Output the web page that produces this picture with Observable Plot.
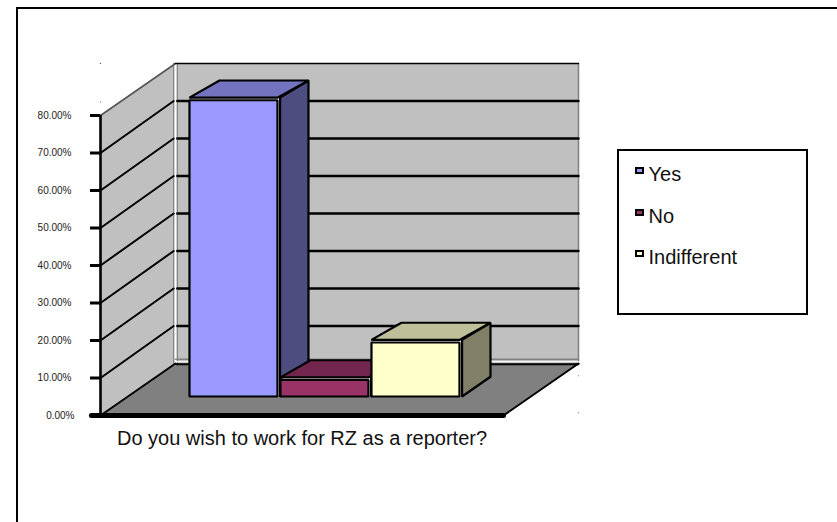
<!DOCTYPE html>
<html><head><meta charset="utf-8">
<script src="https://cdn.jsdelivr.net/npm/d3@7"></script>
<script src="https://cdn.jsdelivr.net/npm/@observablehq/plot@0.6"></script>
<style>
html,body{margin:0;padding:0;background:#fff;width:837px;height:522px;overflow:hidden;font-family:"Liberation Sans",Arial,sans-serif}
#wrap{position:relative;width:837px;height:522px}
#wrap svg{position:absolute;left:0;top:0}
#border{position:absolute;left:15.5px;top:7px;width:830px;height:530px;border:2px solid #000;box-sizing:border-box}
#legend{position:absolute;left:617px;top:149px;width:191px;height:165.5px;border:2.5px solid #000;box-sizing:border-box;background:#fff}
.item{position:absolute;font-size:20px;line-height:24px;color:#111;white-space:nowrap;left:29.5px}
.sw{position:absolute;left:15.5px;width:9px;height:7px;border:2px solid #000;box-sizing:border-box}
</style></head><body>
<div id="wrap"><div id="border"></div></div>
<script>
const categories = ["Yes", "No", "Indifferent"];
const values = [79, 4.4, 14.4];
const faceColors = ["#9999ff", "#993366", "#ffffcc"];
const topColors = ["#7373bf", "#73264d", "#bfbf99"];
const sideColors = ["#4d4d80", "#732649", "#808066"];
const yTicks = [10, 20, 30, 40, 50, 60, 70, 80];
const axisTitle = "Do you wish to work for RZ as a reporter?";
const strayLeft = [83.6, 93.9];
const strayRight = [10.6, 0.8];

const fmt = d => d.toFixed(2) + "%";
const W = 403 / 91;        // floor width, in category steps
const DX = 75 / 91, DY = 13.87; // projection of the full depth onto x / y
const GAP = 0.677, FW = 0.967, BW = 0.978;
const Z0 = 0.365, Z1x = 0.765, Z1y = 0.745;
const PX = W / 403, PY = 80 / 300; // one pixel, in scale units
const P = (x, y, z) => [x + z * DX, y + z * DY];

const poly = (pts, o) => Plot.line(pts, {x: d => d[0], y: d => d[1], curve: "linear-closed", strokeLinejoin: "miter", ...o});
const path = (pts, o) => Plot.line(pts, {x: d => d[0], y: d => d[1], strokeLinejoin: "miter", ...o});

const marks = [];
// walls
marks.push(poly([P(0,0,0), P(0,80,0), P(0,80,1), P(0,0,1)], {fill: "#c0c0c0"}));
marks.push(poly([P(0,0,1), P(0,80,1), P(W,80,1), P(W,0,1)], {fill: "#c0c0c0"}));
// floor
marks.push(poly([P(0,0,0), P(0,0,1), P(W,0,1), P(W,0,0)], {fill: "#808080"}));
// wall edges
const e = 1.8 * PX;
marks.push(path([P(0,0,1), P(0,80,1)], {stroke: "#fff", strokeWidth: 4}));
marks.push(path([P(-e,0,1), P(-e,80,1)], {stroke: "#808080", strokeWidth: 1.3}));
marks.push(path([P(e,0,1), P(e,80,1)], {stroke: "#808080", strokeWidth: 1.3}));
marks.push(path([P(0,1.1,1), P(W,1.1,1)], {stroke: "#808080", strokeWidth: 1.5}));
marks.push(path([P(W,0.6,1), P(W,80,1)], {stroke: "#808080", strokeWidth: 1.5}));
marks.push(path([P(0,0.5,1), P(W,0.5,1)], {stroke: "#fff", strokeWidth: 1}));
marks.push(path([P(0,80,0), P(0,80,1)], {stroke: "#555", strokeWidth: 1.6}));
marks.push(path([P(0,80,1), P(W,80,1)], {stroke: "#000", strokeWidth: 1.5}));
marks.push(path([P(0,-0.2,1), P(W,-0.2,1)], {stroke: "#000", strokeWidth: 1.8}));
// gridlines
for (const v of yTicks.slice(0, -1)) {
  marks.push(path([P(0,v,0), P(-e,v,1)], {stroke: "#000", strokeWidth: 2}));
  marks.push(path([P(e,v,1), P(W,v,1)], {stroke: "#000", strokeWidth: 2.4}));
}
// floor edges
marks.push(path([P(0,0,0), P(0,0,1)], {stroke: "#000", strokeWidth: 2}));
marks.push(path([P(W,0,0), P(W,0,1)], {stroke: "#000", strokeWidth: 2}));
marks.push(path([P(-0.1,0,0), P(W,0,0)], {stroke: "#000", strokeWidth: 5}));
marks.push(Plot.ruleX([0], {y1: 0, y2: 80, stroke: "#000", strokeWidth: 2.6}));
// stray tick remnants
marks.push(Plot.dot(strayLeft, {x: () => 0, y: d => d, r: 0.6, fill: "#555", stroke: "none"}));
marks.push(Plot.dot(strayRight, {x: () => W + DX, y: d => d, r: 0.7, fill: "#999", stroke: "none"}));
// bars
values.forEach((v, i) => {
  const x0 = GAP + i, xf = x0 + FW, xb = x0 + BW;
  const fb = (x, y) => [x + Z0 * DX, y + Z0 * DY];
  const bk = (x, y) => [x + Z1x * DX, y + Z1y * DY];
  const shift = 2.6;
  marks.push(poly([fb(x0,0), fb(x0,v), bk(x0,v), bk(xb,v), bk(xb,0), fb(xf,0)], {fill: "#fff"}));
  // side
  const sf0 = [fb(xf,0)[0] + shift*PX, fb(xf,0)[1]];
  const sft = [fb(xf,v)[0] + shift*PX, fb(xf,v)[1] + shift*PY];
  marks.push(poly([sf0, sft, bk(xb,v), bk(xb,0)], {fill: sideColors[i], stroke: "#000", strokeWidth: 2.2}));
  // top
  const tfl = [fb(x0,v)[0], fb(x0,v)[1] + shift*PY];
  const tfr = [fb(xf,v)[0], fb(xf,v)[1] + shift*PY];
  marks.push(poly([tfl, bk(x0,v), bk(xb,v), tfr], {fill: topColors[i], stroke: "#000", strokeWidth: 2.2}));
  // front
  marks.push(poly([fb(x0,0), fb(x0,v), fb(xf,v), fb(xf,0)], {fill: faceColors[i], stroke: "#000", strokeWidth: 2.2}));
});

marks.push(Plot.axisY(yTicks, {anchor: "left", tickSize: 10, tickPadding: 19, tickFormat: fmt, strokeWidth: 3, label: null, fontSize: 10, fill: "#222"}));
marks.push(Plot.axisY([0], {anchor: "left", tickSize: 10, tickPadding: 16, tickFormat: fmt, strokeWidth: 3, label: null, fontSize: 10, fill: "#222"}));
marks.push(Plot.text([axisTitle], {x: W * 0.5, y: 0, dy: 23, text: d => d, fontSize: 20, fill: "#111", textAnchor: "middle"}));

const chart = Plot.plot({
  width: 837, height: 522,
  marginLeft: 100, marginRight: 334, marginTop: 115, marginBottom: 107,
  style: {background: "transparent", fontFamily: "'Liberation Sans', Arial, sans-serif"},
  x: {domain: [0, W], axis: null},
  y: {domain: [0, 80], axis: null},
  marks
});
const wrap = document.getElementById("wrap");
wrap.appendChild(chart);

const legend = document.createElement("div");
legend.id = "legend";
const tops = [11, 53, 94];
const swTops = [15.5, 57.5, 98.5];
categories.forEach((c, i) => {
  const t = document.createElement("div"); t.className = "item"; t.textContent = c; t.style.top = tops[i] + "px"; legend.appendChild(t);
  const s = document.createElement("div"); s.className = "sw"; s.style.background = faceColors[i]; s.style.top = swTops[i] + "px"; legend.appendChild(s);
});
wrap.appendChild(legend);
</script>
</body></html>
